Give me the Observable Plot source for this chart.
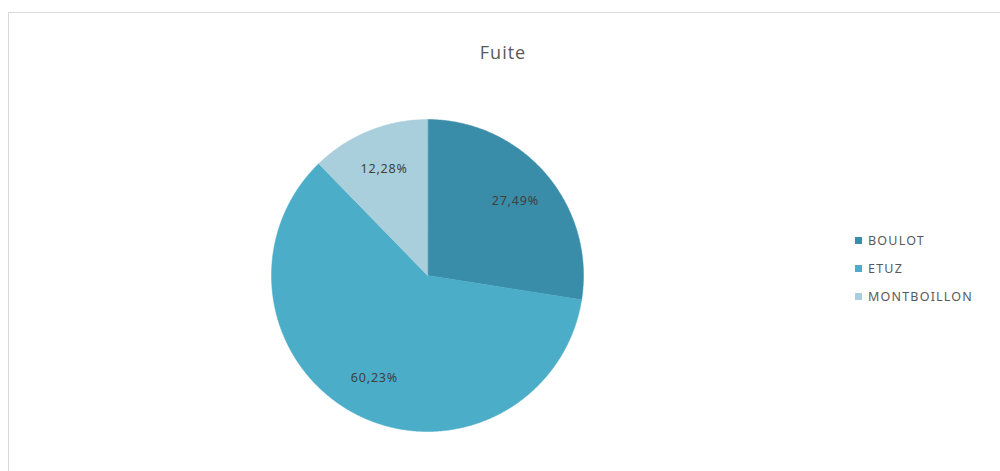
<!DOCTYPE html>
<html>
<head>
<meta charset="utf-8">
<script src="https://cdn.jsdelivr.net/npm/d3@7"></script>
<script src="https://cdn.jsdelivr.net/npm/@observablehq/plot@0.6"></script>
<style>
  html, body { margin: 0; padding: 0; background: #fff; width: 1000px; height: 471px; overflow: hidden; }
  #frame { position: absolute; left: 8px; top: 12px; width: 1000px; height: 470px; border-left: 1px solid #d9d9d9; border-top: 1px solid #d9d9d9; box-sizing: border-box; }
  #title { position: absolute; left: 0; width: 1006px; top: 40px; text-align: center; font-family: "Open Sans", sans-serif; font-size: 18px; letter-spacing: 1px; color: #595959; }
  #chart { position: absolute; left: 257px; top: 105px; }
  #legend { position: absolute; left: 855px; top: 226px; font-family: "Noto Sans", sans-serif; font-size: 12.5px; letter-spacing: 1.2px; color: #595959; }
  .item { height: 28px; display: flex; align-items: center; }
  .sw { width: 7px; height: 7px; margin-right: 6px; display: inline-block; }
</style>
</head>
<body>
<div id="frame"></div>
<div id="title">Fuite</div>
<div id="chart"></div>
<div id="legend"></div>
<script>
const categories = ["BOULOT", "ETUZ", "MONTBOILLON"];
const values = [27.49, 60.23, 12.28];
const labels = ["27,49%", "60,23%", "12,28%"];
const colors = ["#3a8da9", "#4badc7", "#aacfdc"];

const total = d3.sum(values);
const slices = [];
let acc = 0;
categories.forEach((c, i) => {
  const a0 = acc / total * 2 * Math.PI;
  acc += values[i];
  const a1 = acc / total * 2 * Math.PI;
  slices.push({category: c, a0, a1, label: labels[i]});
});

// polygon outline for each slice, in unit-circle coordinates
const pts = [];
slices.forEach(s => {
  pts.push({category: s.category, x: 0, y: 0});
  const n = Math.max(2, Math.ceil((s.a1 - s.a0) / (Math.PI / 360)));
  for (let k = 0; k <= n; k++) {
    const a = s.a0 + (s.a1 - s.a0) * k / n;
    pts.push({category: s.category, x: Math.sin(a), y: Math.cos(a)});
  }
});
const labelR = 0.74;
const labelPts = slices.map(s => {
  const m = (s.a0 + s.a1) / 2;
  return {label: s.label, x: labelR * Math.sin(m), y: labelR * Math.cos(m)};
});

const size = 340, r = 156;
const ext = (size / 2) / r;
const plot = Plot.plot({
  width: size, height: size,
  margin: 0,
  x: {domain: [-ext, ext], axis: null},
  y: {domain: [-ext, ext], axis: null},
  color: {domain: categories, range: colors},
  marks: [
    Plot.line(pts, {x: "x", y: "y", z: "category", fill: "category", stroke: "category", strokeWidth: 0.5, curve: "linear-closed"}),
    Plot.text(labelPts, {x: "x", y: "y", text: "label", fill: "#404040", fontSize: 12.5, fontFamily: "Noto Sans, sans-serif", style: "letter-spacing:0.8px"})
  ]
});
plot.querySelectorAll("text").forEach(t => t.style.letterSpacing = "0.8px");
document.getElementById("chart").appendChild(plot);

const legend = document.getElementById("legend");
categories.forEach((c, i) => {
  const d = document.createElement("div");
  d.className = "item";
  d.innerHTML = `<span class="sw" style="background:${colors[i]}"></span><span>${c}</span>`;
  legend.appendChild(d);
});
</script>
</body>
</html>
